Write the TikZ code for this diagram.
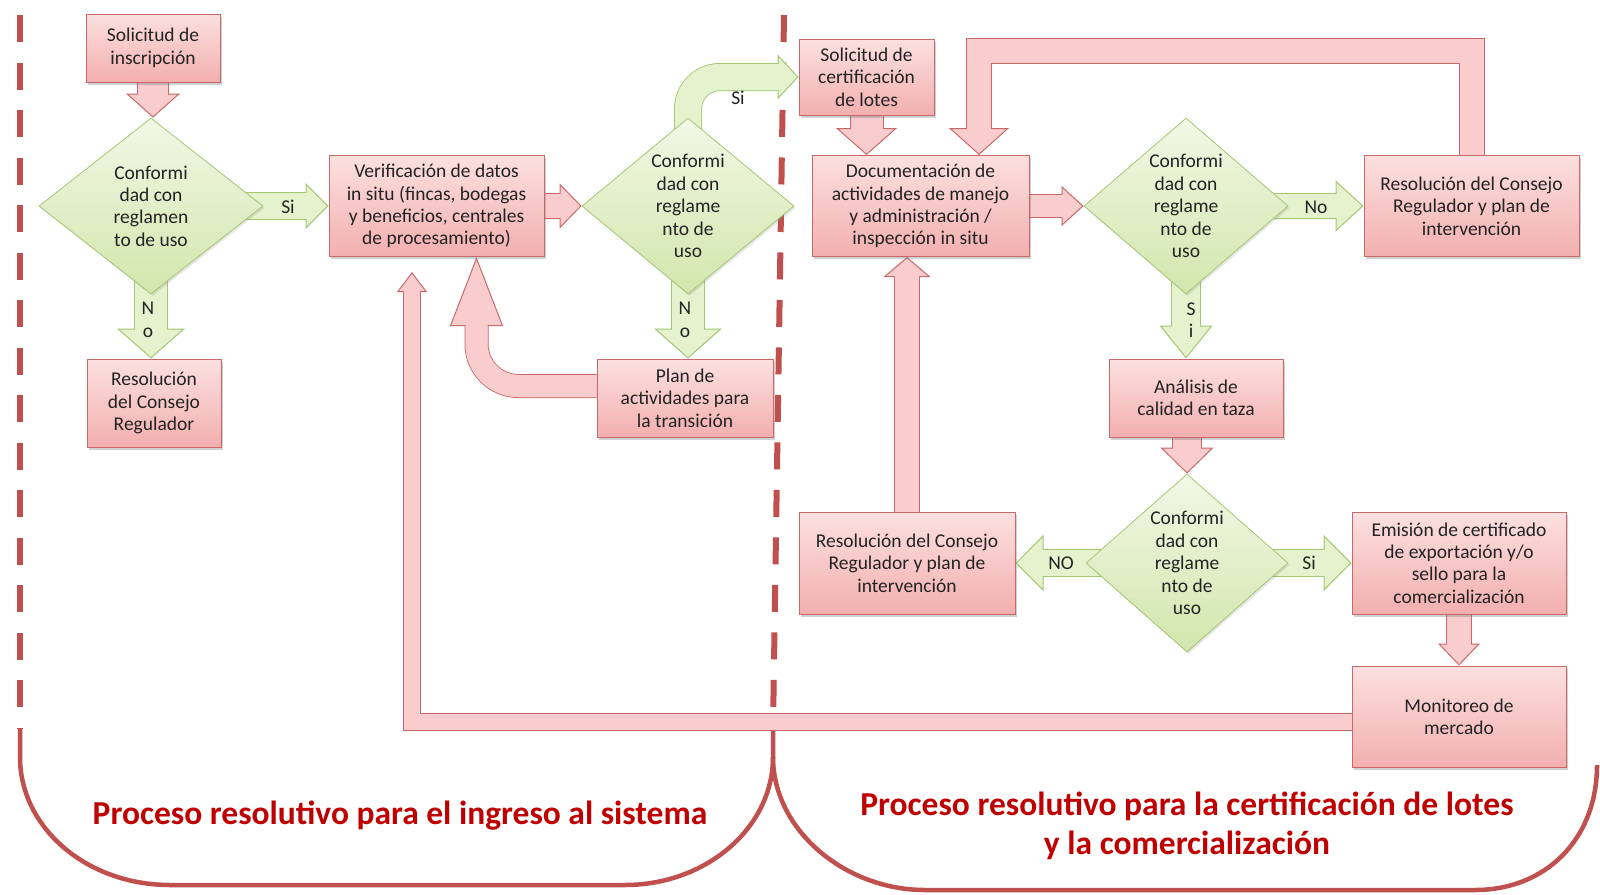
\documentclass[tikz,border=0pt]{standalone}
\usepackage{fontspec}
\setmainfont{Carlito}
\usetikzlibrary{shapes.geometric, arrows.meta, shadows, backgrounds}

\definecolor{boxline}{RGB}{200,105,105}
\definecolor{boxtop}{RGB}{252,224,224}
\definecolor{boxbot}{RGB}{243,175,175}
\definecolor{arrowpink}{RGB}{249,205,205}
\definecolor{decline}{RGB}{165,198,115}
\definecolor{dectop}{RGB}{241,248,230}
\definecolor{decbot}{RGB}{210,230,172}
\definecolor{arrowgreen}{RGB}{228,242,205}
\definecolor{linered}{RGB}{192,80,77}
\definecolor{titlered}{RGB}{192,0,0}
\definecolor{textgray}{RGB}{35,35,35}

\newcommand{\boxfont}{\fontsize{19.5}{22.4}\selectfont}
\newcommand{\titlefont}{\fontsize{33.5}{39}\selectfont\bfseries}

\begin{document}
\begin{tikzpicture}[x=1pt, y=-1pt]

%-------------------------------------------------
% Styles
%-------------------------------------------------
\tikzset{
  box/.style={draw=boxline, line width=1pt, top color=boxtop, bottom color=boxbot,
    align=center, inner sep=2pt, font=\boxfont, text=textgray,
    drop shadow={shadow xshift=2pt, shadow yshift=-2.5pt, opacity=0.3, fill=black!60}},
  decision/.style={diamond, aspect=1.2, draw=decline, line width=0.8pt,
    top color=dectop, bottom color=decbot, align=center, inner sep=-4pt,
    font=\boxfont, text=textgray,
    drop shadow={shadow xshift=1.5pt, shadow yshift=-2pt, opacity=0.2, fill=black!50}},
  lbl/.style={font=\boxfont, text=textgray, align=center, inner sep=0pt},
  proctitle/.style={font=\titlefont, text=titlered, align=center},
  divider/.style={draw=linered, line width=6pt, dash pattern=on 27pt off 20.5pt},
  bracket/.style={draw=linered, line width=4.5pt},
  parrow/.style n args={3}{draw=arrowpink, line width=#1,
    -{Triangle[width=#2, length=#3, line width=1pt, color=boxline, fill=arrowpink]},
    preaction={draw=boxline, line width=#1+2pt, -, shorten >=#3-1pt},
    postaction={draw=arrowpink, line width=#1, -, shorten >=#3-1.5pt}},
  garrow/.style n args={3}{draw=arrowgreen, line width=#1,
    -{Triangle[width=#2, length=#3, line width=1pt, color=decline, fill=arrowgreen]},
    preaction={draw=decline, line width=#1+2pt, -, shorten >=#3-1pt},
    postaction={draw=arrowgreen, line width=#1, -, shorten >=#3-1.5pt}}
}

\useasboundingbox (0,0) rectangle (1600,894);

%-------------------------------------------------
% LEFT PART (ingreso al sistema)
%-------------------------------------------------
\node[box, minimum width=134pt, minimum height=68pt] (insc) at (153,48)
  {Solicitud de\\inscripción};
\node[decision, minimum width=224pt, minimum height=176pt] (conf1) at (151,206)
  {Conformi\\dad con\\reglamen\\to de uso};
\node[box, minimum width=134pt, minimum height=88pt] (resol1) at (154,403)
  {Resolución\\del Consejo\\Regulador};
\node[box, minimum width=215pt, minimum height=101pt] (verif) at (436.5,206)
  {Verificación de datos\\in situ (fincas, bodegas\\y beneficios, centrales\\de procesamiento)};
\node[decision, minimum width=212pt, minimum height=176pt] (conf2) at (688,206)
  {Conformi\\dad con\\reglame\\nto de\\uso};
\node[box, minimum width=176pt, minimum height=78pt] (plan) at (685,398)
  {Plan de\\actividades para\\la transición};

%-------------------------------------------------
% RIGHT PART (certificacion de lotes)
%-------------------------------------------------
\node[box, minimum width=135pt, minimum height=76pt] (solcert) at (866.5,77)
  {Solicitud de\\certificación\\de lotes};
\node[box, minimum width=217pt, minimum height=101pt] (docu) at (920.5,206)
  {Documentación de\\actividades de manejo\\y administración /\\inspección in situ};
\node[decision, minimum width=204pt, minimum height=176pt] (conf3) at (1186,206)
  {Conformi\\dad con\\reglame\\nto de\\uso};
\node[box, minimum width=215pt, minimum height=101pt] (resol2) at (1471.5,206)
  {Resolución del Consejo\\Regulador y plan de\\intervención};
\node[box, minimum width=174pt, minimum height=78pt] (analisis) at (1196,398)
  {Análisis de\\calidad en taza};
\node[decision, minimum width=202pt, minimum height=178pt] (conf4) at (1187,563)
  {Conformi\\dad con\\reglame\\nto de\\uso};
\node[box, minimum width=216pt, minimum height=102pt] (resol3) at (907,563)
  {Resolución del Consejo\\Regulador y plan de\\intervención};
\node[box, minimum width=214pt, minimum height=102pt] (emision) at (1459,563)
  {Emisión de certificado\\de exportación y/o\\sello para la\\comercialización};
\node[box, minimum width=214pt, minimum height=101pt] (monitor) at (1459,716.5)
  {Monitoreo de\\mercado};

% Answer labels
\node[lbl] (si1) at (288,207) {Si};
\node[lbl] (no1) at (148,320) {N\\o};
\node[lbl] (no2) at (685,320) {N\\o};
\node[lbl] (si2) at (738,98) {Si};
\node[lbl] (no3) at (1316,207) {No};
\node[lbl] (si3) at (1191,320) {S\\i};
\node[lbl] (no4) at (1061,563) {NO};
\node[lbl] (si4) at (1309,563) {Si};

% Titles
\node[proctitle] (title1) at (400,816) {Proceso resolutivo para el ingreso al sistema};
\node[proctitle] (title2) at (1187,826)
  {Proceso resolutivo para la certificación de lotes\\y la comercialización};

% Turning points of the return arrows
\coordinate (topturn) at (979,51);
\coordinate (fbturn) at (412,722);
\coordinate (fbtip) at (412,272);

%-------------------------------------------------
% Separators and connectors (behind the nodes)
%-------------------------------------------------
\begin{scope}[on background layer]

% Dashed separators
\draw[divider] (20,15) -- (20,728);
\draw[divider] (784,15) -- (773,728);

% Rounded brackets
\draw[bracket] (20,728) -- (20,757) .. controls (20,828) and (87,885) .. (170,885)
  -- (625,885) .. controls (706,885) and (773,828) .. (773,757) -- (773,728);
\draw[bracket] (773,757) .. controls (773,830) and (845,890) .. (925,890)
  -- (1475,890) .. controls (1545,890) and (1597,840) .. (1597,765);

% Decision outputs
\draw[garrow={26pt}{46pt}{23pt}] (conf1.center) -- (verif.west);
\draw[garrow={32pt}{68pt}{30pt}] (conf1.center) -- (conf1.center |- resol1.north);
\draw[garrow={32pt}{68pt}{30pt}] (conf2.center) -- (conf2.center |- plan.north);
\draw[garrow={26pt}{45pt}{21pt}, rounded corners=32pt] (conf2.center) |- (solcert.west);
\draw[garrow={24pt}{51pt}{28pt}] (conf3.center) -- (resol2.west);
\draw[garrow={28pt}{53pt}{33pt}] (conf3.center) -- (conf3.center |- analisis.north);
\draw[garrow={26pt}{56pt}{28pt}] (conf4.center) -- (resol3.east);
\draw[garrow={26pt}{56pt}{28pt}] (conf4.center) -- (emision.west);

% Process flow
\draw[parrow={30pt}{54pt}{24pt}] (insc.south) -- (insc.south |- conf1.north);
\draw[parrow={24pt}{45pt}{22pt}] (verif.east) -- (conf2.west);
\draw[parrow={32pt}{61pt}{27pt}] (solcert.south) -- (solcert.south |- docu.north);
\draw[parrow={22pt}{40pt}{22pt}] (docu.east) -- (conf3.west);
\draw[parrow={28pt}{53pt}{26pt}] (analisis.south -| conf4.north) -- (conf4.north);
\draw[parrow={24pt}{42pt}{22pt}] (emision.south) -- (monitor.north);

% Return arrows
\draw[parrow={22pt}{53pt}{69pt}, rounded corners=42pt]
  ([yshift=12pt]plan.west) -| ([xshift=40pt]verif.south);
\draw[parrow={24pt}{47pt}{20pt}] (resol3.north) -- (resol3.north |- docu.south);
\draw[parrow={24pt}{60pt}{27pt}] (resol2.north) |- (topturn) -- (topturn |- docu.north);
\draw[parrow={16pt}{30pt}{20pt}] (monitor.west |- fbturn) -- (fbturn) -- (fbtip);

\end{scope}

\end{tikzpicture}
\end{document}
